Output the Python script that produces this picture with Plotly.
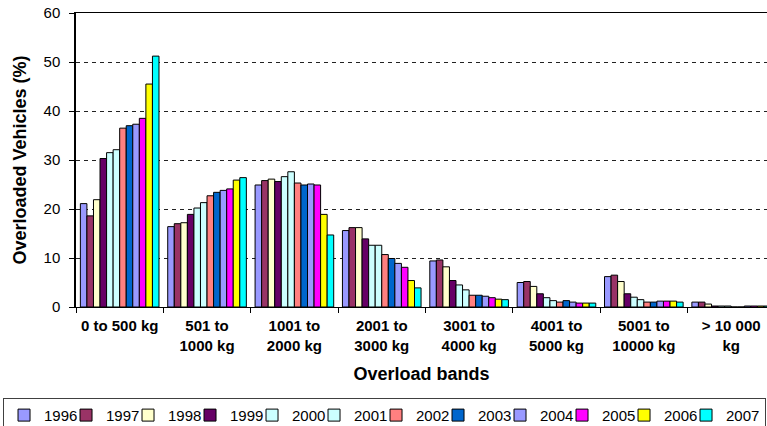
import plotly.graph_objects as go

bands = ["0 to 500 kg", "501 to<br>1000 kg", "1001 to<br>2000 kg", "2001 to<br>3000 kg",
         "3001 to<br>4000 kg", "4001 to<br>5000 kg", "5001 to<br>10000 kg", "> 10 000<br>kg"]

years = ["1996", "1997", "1998", "1999", "2000", "2001",
         "2002", "2003", "2004", "2005", "2006", "2007"]

colors = ["#9999FF", "#993366", "#FFFFCC", "#660066", "#CCFFFF", "#CCFFFF",
          "#FF8080", "#0066CC", "#9999FF", "#FF00FF", "#FFFF00", "#00FFFF"]

v1996 = [21.1, 16.4, 24.9, 15.6, 9.4, 5.0, 6.2, 1.0]
v1997 = [18.6, 17.0, 25.8, 16.2, 9.6, 5.2, 6.5, 1.0]
v1998 = [21.9, 17.2, 26.1, 16.2, 8.2, 4.2, 5.2, 0.6]
v1999 = [30.3, 18.9, 25.6, 13.9, 5.4, 2.7, 2.7, 0.2]
v2000 = [31.5, 20.2, 26.6, 12.6, 4.5, 1.9, 2.0, 0.2]
v2001 = [32.1, 21.3, 27.6, 12.6, 3.5, 1.3, 1.5, 0.2]
v2002 = [36.5, 22.7, 25.3, 10.7, 2.4, 1.0, 1.0, 0.0]
v2003 = [37.0, 23.4, 24.9, 9.9, 2.4, 1.3, 1.0, 0.0]
v2004 = [37.3, 23.8, 25.1, 8.9, 2.2, 1.0, 1.2, 0.2]
v2005 = [38.5, 24.1, 24.9, 8.1, 1.9, 0.8, 1.2, 0.2]
v2006 = [45.5, 25.9, 18.9, 5.4, 1.6, 0.8, 1.2, 0.2]
v2007 = [51.2, 26.4, 14.7, 3.9, 1.5, 0.8, 1.0, 0.2]

series = [v1996, v1997, v1998, v1999, v2000, v2001,
          v2002, v2003, v2004, v2005, v2006, v2007]

FONT = "Liberation Sans, Arial, sans-serif"

fig = go.Figure()
for i, (name, vals, col) in enumerate(zip(years, series, colors)):
    fig.add_trace(go.Bar(
        x=bands, y=vals, name=name,
        marker=dict(color=col, line=dict(color="black", width=1)),
        legendwidth=(34 if i == len(years) - 1 else 17),
    ))

fig.update_layout(
    width=767, height=426,
    margin=dict(l=76, r=0, t=13, b=119, autoexpand=False),
    paper_bgcolor="white", plot_bgcolor="white",
    barmode="group", bargap=0.1, bargroupgap=0,
    font=dict(family=FONT, color="black"),
    showlegend=True,
    legend=dict(
        orientation="h",
        x=-0.1056, xanchor="left", y=-0.309, yanchor="top",
        bordercolor="#404040", borderwidth=1,
        font=dict(family=FONT, size=15, color="black"),
        entrywidth=17, entrywidthmode="pixels",
        traceorder="normal",
    ),
    xaxis=dict(
        type="category", range=[-0.5, 7.41], automargin=False,
        tickson="boundaries", ticks="outside", ticklen=5, tickcolor="black",
        ticklabelstandoff=5,
        showline=True, linecolor="black", linewidth=1, mirror=True,
        showgrid=False,
        tickfont=dict(family=FONT, size=15, color="black", weight="bold"),
        title=dict(text="Overload bands", standoff=14,
                   font=dict(family=FONT, size=18, color="black", weight="bold")),
    ),
    yaxis=dict(
        range=[0, 60], dtick=10, tick0=0, automargin=False,
        ticks="outside", ticklen=5, tickcolor="black",
        ticklabelstandoff=6,
        showline=True, linecolor="black", linewidth=1.5,
        showgrid=True, gridcolor="#222222", gridwidth=1, griddash="4px,4px",
        zeroline=False,
        tickfont=dict(family=FONT, size=15, color="black"),
        title=dict(text="Overloaded Vehicles (%)", standoff=12,
                   font=dict(family=FONT, size=18, color="black", weight="bold")),
    ),
)

fig.write_html("out.html", config={"displayModeBar": False},
               post_script="document.body.style.margin='0';")
